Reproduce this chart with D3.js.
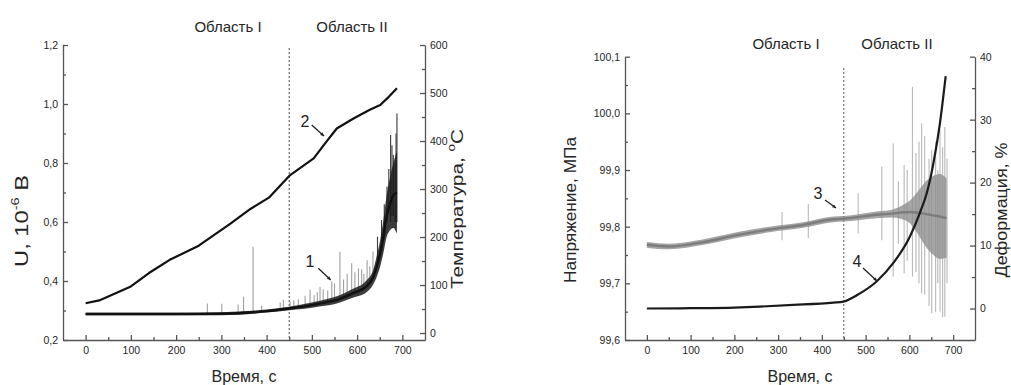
<!DOCTYPE html>
<html><head><meta charset="utf-8">
<script src="https://cdn.jsdelivr.net/npm/d3@7/dist/d3.min.js"></script>
<style>
body{margin:0;background:#fff;}
svg{display:block;font-family:"Liberation Sans",Arial,sans-serif;}
</style></head>
<body><svg id="c" width="1011" height="385"></svg>
<script>
// ---------- shared ----------
const timeTicks = [0,100,200,300,400,500,600,700];
const timeMinor = [50,150,250,350,450,550,650];
const regionBoundary = 450;
const regionLabels = ["Область I","Область II"];

// ---------- panel A: voltage U and temperature ----------
const uTicks = [0.2,0.4,0.6,0.8,1.0,1.2];
const uMinor = [0.3,0.5,0.7,0.9,1.1];
const tempTicks = [0,100,200,300,400,500,600];
const tempMinor = [50,150,250,350,450,550];

const tempTime   = [0, 30, 100, 140, 185, 250, 320, 365, 405, 452, 504, 530, 555, 592, 628, 651, 670, 688];
const tempValues = [62, 68, 97, 125, 152, 182, 228, 259, 282, 329, 364, 396, 426, 447, 465, 475, 492, 510];

const uTime   = [0, 100, 200, 300, 400, 450, 480, 520, 555, 590, 620, 636, 643, 651, 658, 665, 673, 680, 688];
const uMean   = [0.288,0.288,0.288,0.289,0.298,0.307,0.313,0.324,0.336,0.358,0.381,0.415,0.448,0.494,0.55,0.618,0.663,0.69,0.70];
const uSpread = [0.004,0.004,0.004,0.005,0.005,0.006,0.008,0.01,0.012,0.015,0.02,0.025,0.035,0.045,0.055,0.07,0.09,0.11,0.14];

const uSpikeTime = [269, 301, 337, 349, 370, 389, 430, 437, 452, 460, 470, 485, 496, 505, 512, 518, 525, 535, 544, 550, 562, 570, 578, 588, 595, 603, 610, 615, 622, 628, 635, 645, 654, 660, 666, 670, 674, 677, 680, 684, 686, 688];
const uSpikeBase = [0.288,0.289,0.29,0.29,0.292,0.295,0.302,0.304,0.307,0.309,0.311,0.314,0.316,0.318,0.32,0.322,0.325,0.329,0.332,0.334,0.338,0.343,0.348,0.355,0.36,0.365,0.37,0.374,0.38,0.39,0.41,0.47,0.5,0.56,0.6,0.63,0.6,0.62,0.62,0.6,0.6,0.6];
const uSpikeTop  = [0.324,0.323,0.32,0.347,0.516,0.317,0.327,0.336,0.33,0.335,0.338,0.35,0.37,0.352,0.362,0.38,0.372,0.368,0.398,0.392,0.499,0.405,0.425,0.46,0.43,0.443,0.44,0.425,0.47,0.45,0.5,0.55,0.607,0.66,0.72,0.78,0.895,0.86,0.827,0.8,0.9,0.968];

// ---------- panel B: stress and deformation ----------
const sTicks = [99.6,99.7,99.8,99.9,100.0,100.1];
const sMinor = [99.65,99.75,99.85,99.95,100.05];
const defTicks = [0,10,20,30,40];
const defMinor = [5,15,25,35];

const stressTime   = [0, 50, 130, 205, 280, 357, 426, 449, 525, 560, 580, 601, 617, 640, 655, 670, 685];
const stressMean   = [99.768,99.765,99.773,99.785,99.795,99.803,99.813,99.814,99.821,99.823,99.825,99.826,99.825,99.822,99.82,99.818,99.815];
const stressSpread = [0.005,0.005,0.005,0.005,0.005,0.005,0.005,0.005,0.006,0.007,0.011,0.02,0.035,0.06,0.07,0.075,0.07];

const sSpikeTime = [309, 369, 483, 537, 563, 575, 588, 595, 607, 615, 622, 628, 635, 645, 651, 660, 665, 670, 676, 681, 686];
const sSpikeTop  = [99.826,99.84,99.859,99.906,99.947,99.88,99.909,99.9,100.047,99.93,99.95,99.982,99.96,99.92,99.935,99.95,99.9,99.97,99.94,99.976,99.92];
const sSpikeBot  = [99.776,99.78,99.788,99.776,99.712,99.77,99.718,99.74,99.712,99.72,99.7,99.682,99.68,99.66,99.647,99.65,99.7,99.65,99.64,99.641,99.7];

const defTime   = [0, 100, 200, 258, 335, 426, 449, 487, 525, 563, 601, 624, 640, 655, 670, 683];
const defValues = [0, 0.05, 0.15, 0.3, 0.57, 0.95, 1.1, 2.4, 4.3, 7.2, 11.4, 15.2, 18.4, 23.1, 29.5, 36.9];

// ---------- drawing ----------
const svg = d3.select("#c");
const comma1 = d => d3.format(".1f")(d).replace(".", ",");
const AX = "#555", TX = "#262626";

function styleAxis(g){
  g.selectAll("path,line").attr("stroke", AX).attr("stroke-width", 1.3);
  g.selectAll("text").attr("fill", TX).attr("font-size", 10.5).attr("font-family", "Liberation Sans, Arial, sans-serif");
}

function drawAxes(p){
  const {x, yL, yR, xMinor, yLTicks, yLMinor, yLFmt, yRTicks, yRMinor, yRFmt} = p;
  const y0 = yL.range()[0], xl = x.range()[0], xr = x.range()[1];
  svg.append("g").attr("transform",`translate(0,${y0})`)
    .call(d3.axisBottom(x).tickValues(xMinor).tickSize(-3).tickFormat("").tickSizeOuter(0))
    .call(styleAxis).select(".domain").remove();
  svg.append("g").attr("transform",`translate(${xl},0)`)
    .call(d3.axisLeft(yL).tickValues(yLMinor).tickSize(-3).tickFormat("").tickSizeOuter(0))
    .call(styleAxis).select(".domain").remove();
  svg.append("g").attr("transform",`translate(${xr},0)`)
    .call(d3.axisRight(yR).tickValues(yRMinor).tickSize(-3).tickFormat("").tickSizeOuter(0))
    .call(styleAxis).select(".domain").remove();
  svg.append("g").attr("transform",`translate(0,${y0})`)
    .call(d3.axisBottom(x).tickValues(timeTicks).tickSize(-5).tickPadding(7).tickSizeOuter(0))
    .call(styleAxis);
  svg.append("g").attr("transform",`translate(${xl},0)`)
    .call(d3.axisLeft(yL).tickValues(yLTicks).tickSize(-5).tickPadding(5).tickFormat(yLFmt).tickSizeOuter(0))
    .call(styleAxis);
  svg.append("g").attr("transform",`translate(${xr},0)`)
    .call(d3.axisRight(yR).tickValues(yRTicks).tickSize(-5).tickPadding(5).tickFormat(yRFmt).tickSizeOuter(0))
    .call(styleAxis);
}

function rotLabel(cx, cy, len, fs, build){
  const t = svg.append("text").attr("transform",`translate(${cx},${cy}) rotate(-90)`)
    .attr("text-anchor","middle").attr("dominant-baseline","middle")
    .attr("font-size",fs).attr("fill",TX);
  build(t);
  if (len) t.attr("textLength", len).attr("lengthAdjust","spacingAndGlyphs");
  return t;
}

function annot(num, lx, ly, x1, y1, x2, y2){
  svg.append("text").attr("x",lx).attr("y",ly).attr("font-size",16).attr("fill","#222")
    .attr("text-anchor","middle").attr("dominant-baseline","middle").text(num);
  svg.append("line").attr("x1",x1).attr("y1",y1).attr("x2",x2).attr("y2",y2)
    .attr("stroke","#222").attr("stroke-width",1.3);
  const ang = Math.atan2(y2-y1, x2-x1);
  const a = 4;
  svg.append("path").attr("d",`M${x2},${y2}L${x2-a*Math.cos(ang-0.45)},${y2-a*Math.sin(ang-0.45)}L${x2-a*Math.cos(ang+0.45)},${y2-a*Math.sin(ang+0.45)}Z`)
    .attr("fill","#222");
}

// ===== Panel A =====
{
  const x  = d3.scaleLinear().domain([-50, 750]).range([63, 425]);
  const yL = d3.scaleLinear().domain([0.2, 1.2]).range([340, 45]);
  const yR = d3.scaleLinear().domain([-14.5, 600]).range([340, 45]);

  svg.append("line").attr("x1",x(regionBoundary)).attr("x2",x(regionBoundary))
    .attr("y1",yL(1.19)).attr("y2",yL(0.2)).attr("stroke","#666").attr("stroke-width",1.2).attr("stroke-dasharray","2,2");

  uSpikeTime.forEach((t,i)=>{
    svg.append("line").attr("x1",x(t)).attr("x2",x(t)).attr("y1",yL(uSpikeBase[i])).attr("y2",yL(uSpikeTop[i]))
      .attr("stroke", t>640 ? "#3a3a3a" : "#a0a0a0").attr("stroke-width",1.1);
  });
  const uData = uTime.map((t,i)=>({t, m:uMean[i], s:uSpread[i]}));
  svg.append("path").datum(uData)
    .attr("d", d3.area().x(d=>x(d.t)).y0(d=>yL(d.m-d.s)).y1(d=>yL(d.m+d.s)).curve(d3.curveMonotoneX))
    .attr("fill","#1a1a1a").attr("opacity",0.85);
  svg.append("path").datum(uData)
    .attr("d", d3.line().x(d=>x(d.t)).y(d=>yL(d.m)).curve(d3.curveMonotoneX))
    .attr("fill","none").attr("stroke","#111").attr("stroke-width",2.4);

  const tData = tempTime.map((t,i)=>({t, v:tempValues[i]}));
  svg.append("path").datum(tData)
    .attr("d", d3.line().x(d=>x(d.t)).y(d=>yR(d.v)))
    .attr("fill","none").attr("stroke","#111").attr("stroke-width",2.2).attr("stroke-linejoin","round");

  drawAxes({x, yL, yR, xMinor:timeMinor, yLTicks:uTicks, yLMinor:uMinor, yLFmt:comma1,
            yRTicks:tempTicks, yRMinor:tempMinor, yRFmt:d3.format("d")});

  svg.append("text").attr("x",228).attr("y",28).attr("text-anchor","middle").attr("dominant-baseline","middle")
    .attr("font-size",15).attr("fill",TX).text(regionLabels[0]);
  svg.append("text").attr("x",352).attr("y",28).attr("text-anchor","middle").attr("dominant-baseline","middle")
    .attr("font-size",15).attr("fill",TX).text(regionLabels[1]);
  svg.append("text").attr("x",244).attr("y",378).attr("text-anchor","middle").attr("dominant-baseline","middle")
    .attr("font-size",16).attr("fill",TX).text("Время, с");

  rotLabel(23, 221, 92, 18, t=>{
    t.append("tspan").text("U, 10");
    t.append("tspan").attr("font-size",11).attr("dy",-7).text("-6");
    t.append("tspan").attr("dy",7).text(" В");
  });
  rotLabel(459, 209, 160, 17, t=>{
    t.append("tspan").text("Температура, ");
    t.append("tspan").attr("font-size",11).attr("dy",-7).text("o");
    t.append("tspan").attr("dy",7).text("С");
  });

  annot("2", 305, 123, 311.7, 125, 324, 136);
  annot("1", 310, 263, 318.3, 268.3, 330.7, 280);
}

// ===== Panel B =====
{
  const x  = d3.scaleLinear().domain([-50, 750]).range([625, 975]);
  const yL = d3.scaleLinear().domain([99.6, 100.1]).range([340, 56.7]);
  const yR = d3.scaleLinear().domain([-5, 40]).range([340, 56.7]);

  svg.append("line").attr("x1",x(regionBoundary)).attr("x2",x(regionBoundary))
    .attr("y1",yL(100.08)).attr("y2",yL(99.6)).attr("stroke","#777").attr("stroke-width",1.2).attr("stroke-dasharray","2,2");

  sSpikeTime.forEach((t,i)=>{
    svg.append("line").attr("x1",x(t)).attr("x2",x(t)).attr("y1",yL(sSpikeBot[i])).attr("y2",yL(sSpikeTop[i]))
      .attr("stroke","#b8b8b8").attr("stroke-width",1.1);
  });
  const sData = stressTime.map((t,i)=>({t, m:stressMean[i], s:stressSpread[i]}));
  svg.append("path").datum(sData)
    .attr("d", d3.area().x(d=>x(d.t)).y0(d=>yL(d.m-d.s)).y1(d=>yL(d.m+d.s)).curve(d3.curveMonotoneX))
    .attr("fill","#8e8e8e").attr("opacity",0.8);
  svg.append("path").datum(sData)
    .attr("d", d3.line().x(d=>x(d.t)).y(d=>yL(d.m)).curve(d3.curveMonotoneX))
    .attr("fill","none").attr("stroke","#7d7d7d").attr("stroke-width",2.4);

  const dData = defTime.map((t,i)=>({t, v:defValues[i]}));
  svg.append("path").datum(dData)
    .attr("d", d3.line().x(d=>x(d.t)).y(d=>yR(d.v)).curve(d3.curveMonotoneX))
    .attr("fill","none").attr("stroke","#1a1a1a").attr("stroke-width",2.2);

  drawAxes({x, yL, yR, xMinor:timeMinor, yLTicks:sTicks, yLMinor:sMinor, yLFmt:comma1,
            yRTicks:defTicks, yRMinor:defMinor, yRFmt:d3.format("d")});

  svg.append("text").attr("x",786).attr("y",45).attr("text-anchor","middle").attr("dominant-baseline","middle")
    .attr("font-size",15).attr("fill",TX).text(regionLabels[0]);
  svg.append("text").attr("x",897).attr("y",45).attr("text-anchor","middle").attr("dominant-baseline","middle")
    .attr("font-size",15).attr("fill",TX).text(regionLabels[1]);
  svg.append("text").attr("x",800).attr("y",378).attr("text-anchor","middle").attr("dominant-baseline","middle")
    .attr("font-size",16).attr("fill",TX).text("Время, с");

  rotLabel(572, 210, 146, 16, t=>t.text("Напряжение, МПа"));
  rotLabel(1003, 210, 135, 16, t=>t.text("Деформация, %"));

  annot("3", 818, 195, 825, 200, 836, 208);
  annot("4", 857, 263, 863, 268, 877, 281);
}
</script></body></html>
